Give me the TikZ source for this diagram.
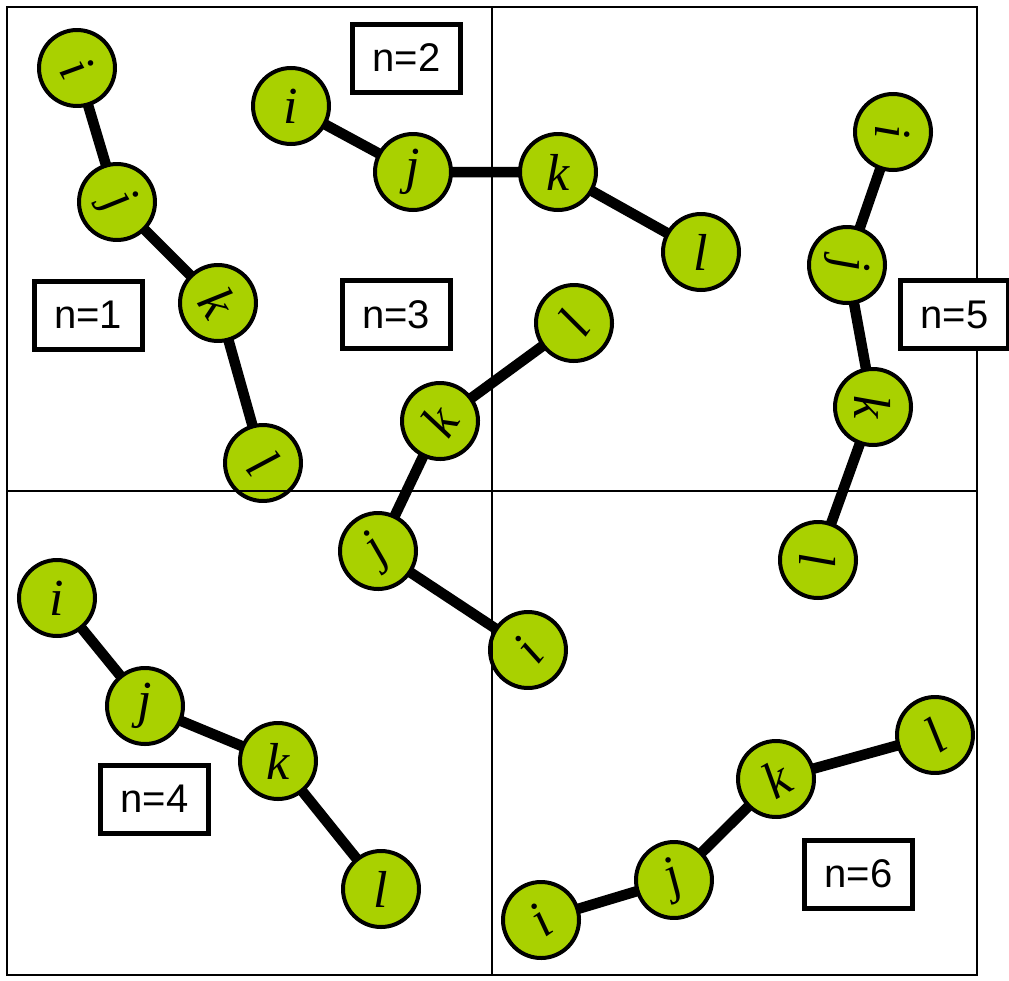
\documentclass[tikz,border=0pt]{standalone}
\usepackage{fontspec}
\setmainfont{Liberation Serif}
\newfontfamily\arialf{Liberation Sans}
\definecolor{atomgreen}{RGB}{169,209,0}
\pgfdeclarelayer{bg}
\pgfsetlayers{bg,main}
\begin{document}
\begin{tikzpicture}[x=1pt,y=-1pt,
  atom/.style={circle,draw=black,line width=4pt,fill=atomgreen,minimum size=76pt,inner sep=0pt,font=\fontsize{52}{60}\selectfont\itshape},
  bond/.style={line width=10.5pt,black},
  gridline/.style={line width=2.2pt,black},
  nbox/.style={draw=black,line width=5pt,fill=white,minimum width=108pt,minimum height=68pt,inner sep=0pt,font=\arialf\fontsize{40}{46}\selectfont}]
\useasboundingbox (0,0) rectangle (1009,980);
% n=1
\node[atom,rotate=-60] (a1) at (77,68) {i};
\node[atom,rotate=-58] (b1) at (117,202) {j};
\node[atom,rotate=-58] (c1) at (218,303) {k};
\node[atom,rotate=-52] (d1) at (263,463) {l};
% n=2
\node[atom] (a2) at (291,106) {i};
\node[atom] (b2) at (413,172) {j};
\node[atom] (c2) at (558,172) {k};
\node[atom] (d2) at (701,252) {l};
% n=3
\node[atom,rotate=52] (a3) at (528,650) {i};
\node[atom,rotate=40] (b3) at (378,551) {j};
\node[atom,rotate=57] (c3) at (440,421) {k};
\node[atom,rotate=55] (d3) at (574,323) {l};
% n=4
\node[atom] (a4) at (57,598) {i};
\node[atom] (b4) at (145,706) {j};
\node[atom] (c4) at (278,761) {k};
\node[atom] (d4) at (381,889) {l};
% n=5
\node[atom,rotate=-90] (a5) at (893,132) {i};
\node[atom,rotate=-90] (b5) at (847,265) {j};
\node[atom,rotate=-90] (c5) at (873,407) {k};
\node[atom,rotate=-90] (d5) at (818,560) {l};
% n=6
\node[atom,rotate=35] (a6) at (541,920) {i};
\node[atom,rotate=25] (b6) at (674,880) {j};
\node[atom,rotate=30] (c6) at (776,779) {k};
\node[atom,rotate=32] (d6) at (935,735) {l};
\begin{pgfonlayer}{bg}
\foreach \n in {1,...,6}{
  \draw[bond] (a\n.center) -- (b\n.center) -- (c\n.center) -- (d\n.center);
}
\end{pgfonlayer}
% frame
\coordinate (tl) at (7,7);
\coordinate (br) at (977,975);
\coordinate (ml) at (7,491);
\coordinate (mr) at (977,491);
\coordinate (mt) at (492,7);
\coordinate (mb) at (492,975);
\draw[gridline] (tl) rectangle (br);
\draw[gridline] (ml) -- (mr);
\draw[gridline] (mt) -- (mb);
% labels
\node[nbox] (l1) at (88,315) {n=1};
\node[nbox] (l2) at (406.5,58) {n=2};
\node[nbox] (l3) at (396,314.5) {n=3};
\node[nbox] (l4) at (154.5,799) {n=4};
\node[nbox] (l5) at (954.5,314.5) {n=5};
\node[nbox] (l6) at (858.5,874) {n=6};
\end{tikzpicture}
\end{document}
